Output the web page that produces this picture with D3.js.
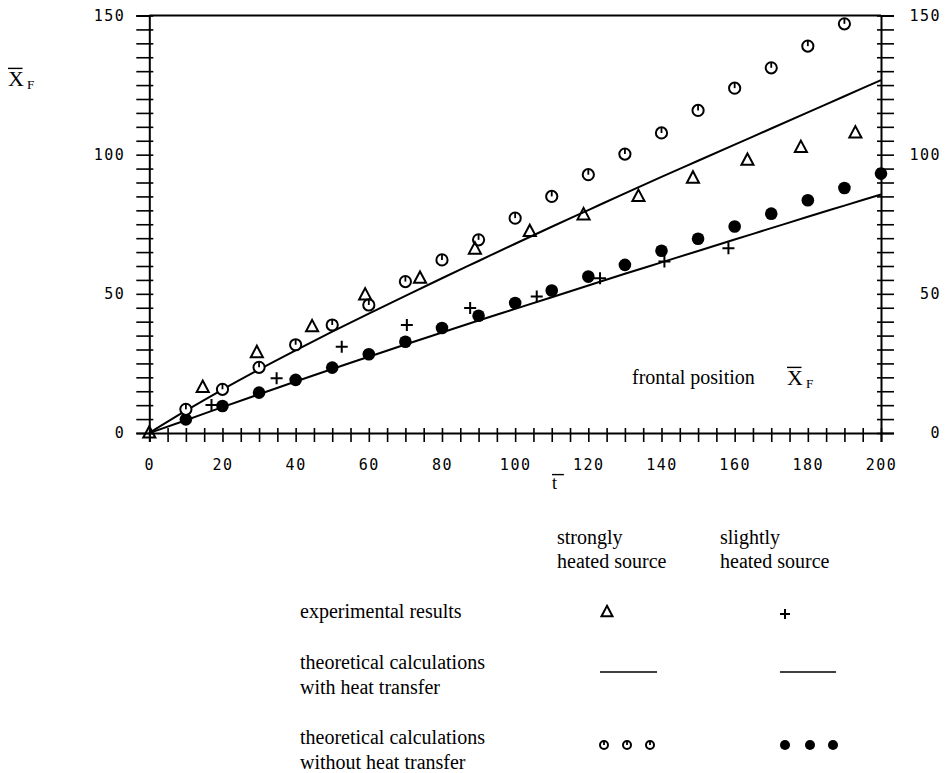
<!DOCTYPE html>
<html>
<head>
<meta charset="utf-8">
<script src="https://cdn.jsdelivr.net/npm/d3@7"></script>
<style>
  body { margin: 0; background: #fff; }
  svg { display: block; }
  .tick-font { font-family: 'DejaVu Sans Mono', monospace; font-size: 15px; letter-spacing: 1.5px; fill: #000; }
  .serif { font-family: 'Liberation Serif', 'Times New Roman', serif; fill: #000; }
</style>
</head>
<body>
<div id="chart"></div>
<script>
// ---- data ----
var tOpen = [10, 20, 30, 40, 50, 60, 70, 80, 90, 100, 110, 120, 130, 140, 150, 160, 170, 180, 190]
var xOpen = [8.5, 15.7, 23.6, 31.7, 38.8, 46, 54.4, 62.2, 69.4, 77.2, 85, 92.8, 100.2, 107.8, 115.9, 123.9, 131.2, 139, 147]

var tFilled = [10, 20, 30, 40, 50, 60, 70, 80, 90, 100, 110, 120, 130, 140, 150, 160, 170, 180, 190, 200]
var xFilled = [4.9, 9.7, 14.5, 19.1, 23.5, 28.3, 32.8, 37.7, 42.1, 46.7, 51.2, 56.2, 60.4, 65.5, 69.8, 74.2, 78.8, 83.6, 88, 93.2]

var tTriangle = [0, 14.6, 29.4, 44.5, 59, 74, 89, 104, 118.7, 133.7, 148.6, 163.5, 178.1, 193]
var xTriangle = [0, 16.4, 28.9, 38.2, 49.6, 55.6, 66.1, 72.4, 78.4, 85, 91.6, 98, 102.6, 107.8]

var tPlus = [17, 34.8, 52.6, 70.4, 87.7, 105.9, 123.2, 140.8, 158.3]
var xPlus = [10.1, 19.7, 31, 38.8, 44.9, 49, 55.6, 61.6, 66.4]

var tLine = [0, 10, 20, 30, 40, 50, 60, 70, 80, 90, 100, 110, 120, 130, 140, 150, 160, 170, 180, 190, 200]
var xLineStrong = [0, 8, 15.6, 22.8, 29.7, 36.4, 42.9, 49.3, 55.6, 61.8, 68, 74.1, 80.1, 86.1, 92, 97.8, 103.6, 109.4, 115.2, 121, 126.8]
var xLineSlight = [0, 4.6, 9.3, 13.9, 18.5, 23, 27.4, 31.8, 36.1, 40.4, 44.6, 48.8, 53, 57.2, 61.3, 65.4, 69.5, 73.6, 77.7, 81.7, 85.7]

var xTicks = [0, 20, 40, 60, 80, 100, 120, 140, 160, 180, 200]
var yTicks = [0, 50, 100, 150]

var legendColumns = [['strongly', 'heated source'], ['slightly', 'heated source']]
var legendRows = [['experimental results'], ['theoretical calculations', 'with heat transfer'], ['theoretical calculations', 'without heat transfer']]

// ---- layout ----
var W = 948, H = 773
var margins = {top: 15.5, right: 67, bottom: 340, left: 149.3}

var svg = d3.select('#chart').append('svg')
	.attr('width', W)
	.attr('height', H)

var x = d3.scaleLinear().domain([0, 200]).range([margins.left, W - margins.right])
var y = d3.scaleLinear().domain([0, 150]).range([H - margins.bottom, margins.top])

var x0 = x(0), x1 = x(200), y0 = y(0), y1 = y(150)

// top frame line
svg.append('line')
	.attr('x1', x0).attr('x2', x1)
	.attr('y1', y1).attr('y2', y1)
	.attr('stroke', '#000').attr('stroke-width', 2)

// bottom axis
var xAxis = svg.append('g')
	.attr('transform', 'translate(0,' + y0 + ')')
	.call(d3.axisBottom(x).tickValues(d3.range(0, 201, 5)).tickSize(9).tickPadding(17)
		.tickFormat(function(d) { return xTicks.indexOf(d) >= 0 ? d : '' }))
xAxis.select('.domain').attr('stroke-width', 2)
xAxis.selectAll('.tick line').attr('y1', -5).attr('stroke-width', 1.6)
xAxis.selectAll('.tick text').attr('class', 'tick-font').attr('font-family', null).attr('font-size', null)

// left axis
var yAxisL = svg.append('g')
	.attr('transform', 'translate(' + x0 + ',0)')
	.call(d3.axisLeft(y).tickValues(d3.range(0, 151, 5)).tickSize(13).tickPadding(11)
		.tickFormat(function(d) { return yTicks.indexOf(d) >= 0 ? d : '' }))
yAxisL.select('.domain').attr('stroke-width', 2)
yAxisL.selectAll('.tick line').attr('x1', 4).attr('stroke-width', 1.6)
yAxisL.selectAll('.tick text').attr('class', 'tick-font').attr('font-family', null).attr('font-size', null)

// right axis
var yAxisR = svg.append('g')
	.attr('transform', 'translate(' + x1 + ',0)')
	.call(d3.axisRight(y).tickValues(d3.range(0, 151, 5)).tickSize(13)
		.tickFormat(function(d) { return yTicks.indexOf(d) >= 0 ? d : '' }))
yAxisR.select('.domain').attr('stroke-width', 2)
yAxisR.selectAll('.tick line').attr('x1', -4).attr('stroke-width', 1.6)
yAxisR.selectAll('.tick text').attr('class', 'tick-font').attr('font-family', null).attr('font-size', null)
	.attr('text-anchor', 'end').attr('x', 60)

svg.selectAll('.domain').attr('stroke', '#000')
svg.selectAll('.tick line').attr('stroke', '#000')

// ---- curves ----
var line = d3.line()
	.x(function(d) { return x(d[0]) })
	.y(function(d) { return y(d[1]) })
	.curve(d3.curveMonotoneX)

;[xLineStrong, xLineSlight].forEach(function(vals) {
	svg.append('path')
		.datum(tLine.map(function(t, i) { return [t, vals[i]] }))
		.attr('d', line)
		.attr('fill', 'none')
		.attr('stroke', '#000')
		.attr('stroke-width', 2)
})

// ---- markers ----
function zip(a, b) { return a.map(function(v, i) { return [v, b[i]] }) }

function openCircle(g, r) {
	g.append('circle').attr('r', r).attr('fill', '#fff').attr('stroke', '#000').attr('stroke-width', 2)
	g.append('line').attr('x1', 0).attr('x2', 0).attr('y1', -r).attr('y2', 0)
		.attr('stroke', '#000').attr('stroke-width', 1.8)
}

function triangle(g, s) {
	g.append('path')
		.attr('d', 'M0,' + (-s * 0.62) + 'L' + (s * 0.55) + ',' + (s * 0.42) + 'L' + (-s * 0.55) + ',' + (s * 0.42) + 'Z')
		.attr('fill', 'none').attr('stroke', '#000').attr('stroke-width', 2).attr('stroke-linejoin', 'miter')
}

function plus(g, s) {
	g.append('path')
		.attr('d', 'M' + (-s) + ',0H' + s + 'M0,' + (-s) + 'V' + s)
		.attr('stroke', '#000').attr('stroke-width', 2)
}

svg.append('g').selectAll('g')
	.data(zip(tFilled, xFilled))
	.join('circle')
	.attr('cx', function(d) { return x(d[0]) })
	.attr('cy', function(d) { return y(d[1]) })
	.attr('r', 6.3)
	.attr('fill', '#000')

svg.append('g').selectAll('g')
	.data(zip(tOpen, xOpen))
	.join('g')
	.attr('transform', function(d) { return 'translate(' + x(d[0]) + ',' + y(d[1]) + ')' })
	.each(function() { openCircle(d3.select(this), 5.6) })

svg.append('g').selectAll('g')
	.data(zip(tTriangle, xTriangle))
	.join('g')
	.attr('transform', function(d) { return 'translate(' + x(d[0]) + ',' + y(d[1]) + ')' })
	.each(function() { triangle(d3.select(this), 11) })

svg.append('g').selectAll('g')
	.data(zip(tPlus, xPlus))
	.join('g')
	.attr('transform', function(d) { return 'translate(' + x(d[0]) + ',' + y(d[1]) + ')' })
	.each(function() { plus(d3.select(this), 6) })

// ---- axis titles ----
function barSymbol(g, xPos, yPos, letter, sub, size) {
	var t = g.append('text').attr('class', 'serif').attr('x', xPos).attr('y', yPos).attr('font-size', size)
	t.append('tspan').text(letter)
	if (sub) t.append('tspan').attr('font-size', size * 0.6).attr('dx', 3).attr('dy', 3).text(sub)
	var w = size * 0.66
	g.append('line')
		.attr('x1', xPos).attr('x2', xPos + w)
		.attr('y1', yPos - size * 0.8).attr('y2', yPos - size * 0.8)
		.attr('stroke', '#000').attr('stroke-width', 1.4)
}

barSymbol(svg, 8, 86, 'X', 'F', 22)
barSymbol(svg, 552, 489, 't', null, 18)

svg.append('text').attr('class', 'serif').attr('x', 632).attr('y', 384).attr('font-size', 20).text('frontal position')
barSymbol(svg, 787, 385, 'X', 'F', 22)

// ---- legend ----
var colX = [557, 720]
legendColumns.forEach(function(lines, i) {
	lines.forEach(function(s, j) {
		svg.append('text').attr('class', 'serif').attr('x', colX[i]).attr('y', 544 + j * 24)
			.attr('font-size', 20).text(s)
	})
})

var rowY = [618, 669, 744]
legendRows.forEach(function(lines, i) {
	lines.forEach(function(s, j) {
		svg.append('text').attr('class', 'serif').attr('x', 300).attr('y', rowY[i] + j * 25)
			.attr('font-size', 20).text(s)
	})
})

// legend symbols
var lg = svg.append('g')
lg.append('g').attr('transform', 'translate(607,612)').call(function(g) { triangle(g, 10) })
lg.append('g').attr('transform', 'translate(785,614)').call(function(g) { plus(g, 5) })
;[[600, 657], [780, 836]].forEach(function(p) {
	lg.append('line').attr('x1', p[0]).attr('x2', p[1]).attr('y1', 672).attr('y2', 672)
		.attr('stroke', '#000').attr('stroke-width', 1.6)
})
;[604, 627, 650].forEach(function(cx) {
	lg.append('g').attr('transform', 'translate(' + cx + ',745)').call(function(g) { openCircle(g, 4) })
})
;[785, 810, 833].forEach(function(cx) {
	lg.append('circle').attr('cx', cx).attr('cy', 745).attr('r', 5).attr('fill', '#000')
})
</script>
</body>
</html>
